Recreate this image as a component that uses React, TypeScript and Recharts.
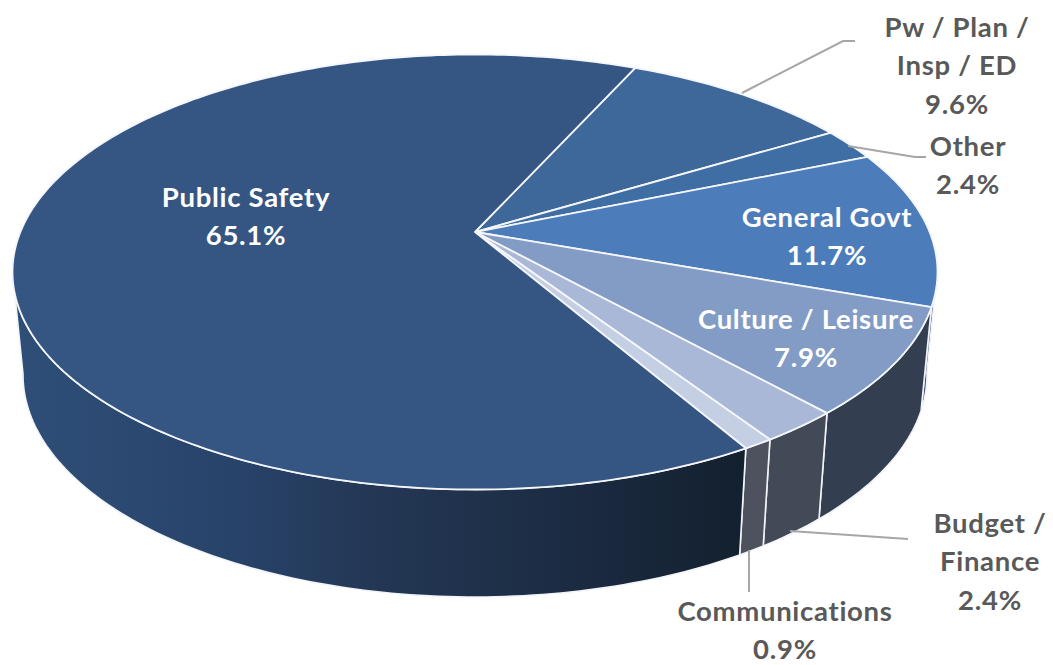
import { Pie, PieChart } from "recharts"

const categories = ["Pw / Plan / Insp / ED", "Other", "General Govt", "Culture / Leisure", "Budget / Finance", "Communications", "Public Safety"]
const shares = [9.6, 2.4, 11.7, 7.9, 2.4, 0.9, 65.1]
const faceColors = ["#3e6899", "#3f6ea4", "#4c7dba", "#839cc6", "#a9b8d7", "#c5cfe3", "#355682"]
const wallColors = ["#2c4a70", "#2d4f78", "#46597a", "#333f50", "#434a57", "#4d525e", "url(#safetyWall)"]

// each label is split by hand, same as the slices' captions
const labelLines = [
  ["Pw / Plan /", "Insp / ED"],
  ["Other"],
  ["General Govt"],
  ["Culture / Leisure"],
  ["Budget /", "Finance"],
  ["Communications"],
  ["Public Safety"],
]
const labelAnchors = [
  { x: 957, y: 27, fill: "#595959" },
  { x: 968, y: 146, fill: "#595959" },
  { x: 827, y: 217, fill: "#ffffff" },
  { x: 806, y: 319, fill: "#ffffff" },
  { x: 990, y: 523, fill: "#595959" },
  { x: 785, y: 611, fill: "#595959" },
  { x: 246, y: 197, fill: "#ffffff" },
]
const leaderLines: (number[][] | null)[] = [
  [[742, 93], [843, 41], [855, 41]],
  [[848, 146], [915, 157], [926, 157]],
  null,
  null,
  [[790, 531], [908, 539]],
  [[749, 550], [749, 592]],
  null,
]

const chartData = categories.map((name, i) => ({ name, value: shares[i], fill: faceColors[i] }))

const WIDTH = 1053
const HEIGHT = 665
const APEX = { x: 475, y: 232 }
const TOP_DISC = { cx: 475, cy: 272, rx: 462.5, ry: 217.5 }
const BOTTOM_DISC = { cx: 475, cy: 375, rx: 452, ry: 222 }
const TILT = (APEX.y - TOP_DISC.cy) / TOP_DISC.ry
const LINE_HEIGHT = 38.7

// collineation of the unit disc: moves the pie centre off the ellipse centre for the perspective look
function onDisc(angle: number) {
  const rad = (angle * Math.PI) / 180
  const u = Math.cos(rad)
  const v = -Math.sin(rad)
  const d = 1 + TILT * v
  return { u: (u * Math.sqrt(1 - TILT * TILT)) / d, v: (v + TILT) / d }
}

function toScreen(p: { u: number; v: number }, disc: typeof TOP_DISC) {
  return `${(disc.cx + disc.rx * p.u).toFixed(2)},${(disc.cy + disc.ry * p.v).toFixed(2)}`
}

function sampleAngles(startAngle: number, endAngle: number) {
  const steps = Math.max(2, Math.ceil(Math.abs(endAngle - startAngle)))
  return Array.from({ length: steps + 1 }, (_, i) => startAngle + ((endAngle - startAngle) * i) / steps)
}

function FaceSlice(props: any) {
  const { cx, cy, startAngle, endAngle, fill } = props
  const arc = sampleAngles(startAngle, endAngle).map((a) => toScreen(onDisc(a), TOP_DISC))
  return <path d={`M${cx},${cy}L${arc.join("L")}Z`} fill={fill} stroke="#f4f6fa" strokeWidth={1.8} strokeLinejoin="round" />
}

function WallSlice(props: any) {
  const { startAngle, endAngle, index } = props
  const visible = sampleAngles(startAngle, endAngle)
    .map(onDisc)
    .filter((p) => p.v > -0.02)
  if (visible.length < 2) return null
  const upper = visible.map((p) => toScreen(p, TOP_DISC))
  const lower = visible.map((p) => toScreen(p, BOTTOM_DISC)).reverse()
  return <path d={`M${[...upper, ...lower].join("L")}Z`} fill={wallColors[index]} stroke="#f2f4f8" strokeWidth={1.6} strokeLinejoin="round" />
}

function SliceLabel(props: any) {
  const { index } = props
  const { x, y, fill } = labelAnchors[index]
  const rows = [...labelLines[index], `${shares[index].toFixed(1)}%`]
  return (
    <text textAnchor="middle" fill={fill} fontFamily="Lato, Carlito, sans-serif" fontWeight={700} fontSize={27.5} letterSpacing={0.7}>
      {rows.map((row, i) => (
        <tspan key={row} x={x} y={y + 9.5 + i * LINE_HEIGHT}>
          {row}
        </tspan>
      ))}
    </text>
  )
}

function LeaderLine(props: any) {
  const points = leaderLines[props.index]
  if (!points) return <g />
  return <polyline points={points.map((p) => p.join(",")).join(" ")} fill="none" stroke="#a6a6a6" strokeWidth={2} />
}

export default function App() {
  return (
    <div style={{ position: "absolute", left: 0, top: 0, width: WIDTH, height: HEIGHT, background: "#fff" }}>
      <PieChart width={WIDTH} height={HEIGHT} margin={{ top: 0, right: 0, bottom: 0, left: 0 }}>
        <defs>
          <linearGradient id="safetyWall" gradientUnits="userSpaceOnUse" x1="12" y1="0" x2="745" y2="0">
            <stop offset="0%" stopColor="#2f4f78" />
            <stop offset="30%" stopColor="#28436a" />
            <stop offset="50%" stopColor="#233754" />
            <stop offset="72%" stopColor="#1d2d45" />
            <stop offset="100%" stopColor="#13202f" />
          </linearGradient>
        </defs>
        <Pie
          data={chartData}
          dataKey="value"
          nameKey="name"
          cx={APEX.x}
          cy={APEX.y}
          outerRadius={200}
          startAngle={65.7}
          endAngle={-294.3}
          paddingAngle={0}
          shape={WallSlice}
          isAnimationActive={false}
        />
        <Pie
          data={chartData}
          dataKey="value"
          nameKey="name"
          cx={APEX.x}
          cy={APEX.y}
          outerRadius={200}
          startAngle={65.7}
          endAngle={-294.3}
          paddingAngle={0}
          shape={FaceSlice}
          label={SliceLabel}
          labelLine={LeaderLine}
          isAnimationActive={false}
        />
      </PieChart>
    </div>
  )
}
